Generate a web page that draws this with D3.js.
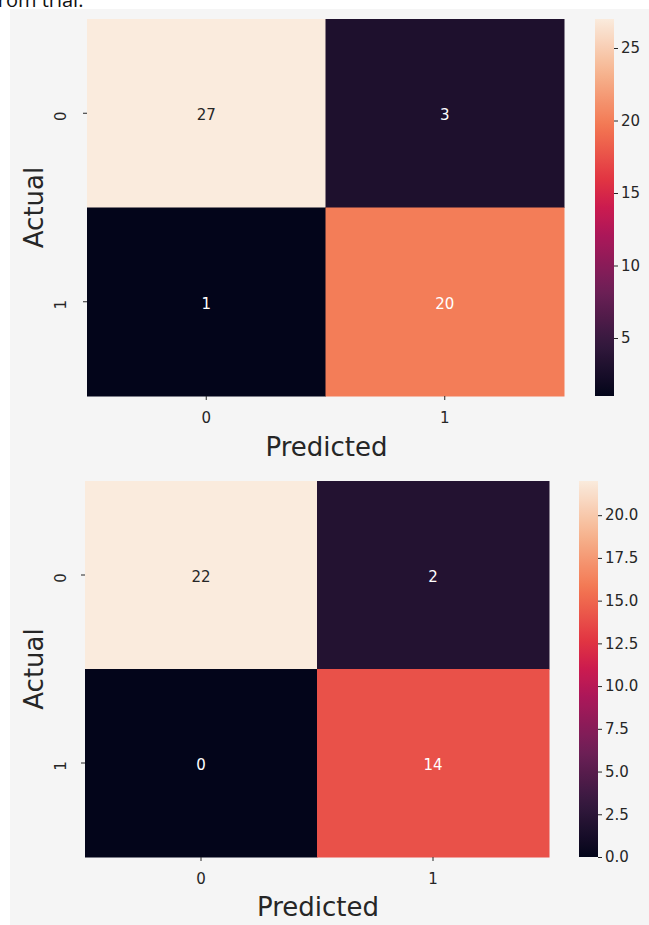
<!DOCTYPE html>
<html><head><meta charset="utf-8">
<script src="https://cdn.jsdelivr.net/npm/d3@7"></script>
<style>html,body{margin:0;padding:0;background:#fff;overflow:hidden}svg{display:block}text{font-family:"DejaVu Sans",sans-serif}</style>
</head><body>
<svg id="chart" width="649" height="925"></svg>
<script>
// ---- data ----
const classes = ["0", "1"];
const matrixTop = [[27, 3], [1, 20]];
const matrixBottom = [[22, 2], [0, 14]];
const cbTicksTop = [5, 10, 15, 20, 25];
const cbTicksBottom = [0, 2.5, 5, 7.5, 10, 12.5, 15, 17.5, 20];
const xLabel = "Predicted";
const yLabel = "Actual";

// rocket colormap approximation
const rocketStops = [0, 1/7, 2/7, 3/7, 0.5, 4/7, 5/7, 6/7, 1];
const rocketColors = ["#03051a", "#35193e", "#701f57", "#ad1759", "#cb1b4f", "#e13342", "#f37651", "#f6b48f", "#faebdd"];
const rocket = d3.scaleLinear().domain(rocketStops).range(rocketColors).interpolate(d3.interpolateRgb);

const svg = d3.select("#chart");
svg.append("rect").attr("x", 10).attr("y", 9).attr("width", 639).attr("height", 916).attr("fill", "#f5f5f5");
svg.append("text").attr("x", -9).attr("y", 7).attr("font-size", 20).attr("fill", "#111")
  .style("font-family", "'Open Sans', sans-serif").text("from trial.");

const defs = svg.append("defs");

function panel(id, matrix, ticks, fmt, L) {
  const vals = matrix.flat();
  const vmin = d3.min(vals), vmax = d3.max(vals);
  const norm = d3.scaleLinear().domain([vmin, vmax]).range([0, 1]);
  const color = v => rocket(norm(v));
  const x = d3.scaleBand().domain(classes).range([L.left, L.right]);
  const y = d3.scaleBand().domain(classes).range([L.top, L.bottom]);
  const g = svg.append("g");
  matrix.forEach((row, i) => row.forEach((v, j) => {
    g.append("rect").attr("x", x(classes[j])).attr("y", y(classes[i]))
      .attr("width", x.bandwidth() + 0.5).attr("height", y.bandwidth() + 0.5).attr("fill", color(v));
    const lum = d3.lab(color(v)).l;
    g.append("text").attr("x", x(classes[j]) + x.bandwidth() / 2).attr("y", y(classes[i]) + y.bandwidth() / 2 + 2)
      .attr("text-anchor", "middle").attr("dominant-baseline", "central").attr("font-size", 15)
      .attr("fill", lum > 75 ? "#262626" : "#ffffff").text(v);
  }));
  // x axis
  const xa = g.append("g").attr("transform", `translate(0,${L.bottom})`)
    .call(d3.axisBottom(x).tickSize(4).tickPadding(12));
  xa.select(".domain").remove();
  xa.selectAll("text").attr("font-size", 15).attr("fill", "#262626").attr("font-family", "DejaVu Sans");
  xa.selectAll("line").attr("stroke", "#262626");
  // y axis
  const ya = g.append("g").attr("transform", `translate(${L.left},0)`)
    .call(d3.axisLeft(y).tickSize(4).tickPadding(0));
  ya.select(".domain").remove();
  ya.selectAll("line").attr("stroke", "#262626");
  ya.selectAll("text").attr("font-size", 15).attr("fill", "#262626").attr("font-family", "DejaVu Sans")
    .attr("text-anchor", "middle").attr("dy", null).attr("x", null)
    .attr("transform", `translate(${L.ylabX - L.left},3) rotate(-90)`);
  // axis titles
  svg.append("text").attr("x", (L.left + L.right) / 2 + 1).attr("y", L.xTitleY).attr("text-anchor", "middle")
    .attr("font-size", 26).attr("fill", "#262626").text(xLabel);
  svg.append("text").attr("transform", `translate(${L.yTitleX},${(L.top + L.bottom) / 2}) rotate(-90)`)
    .attr("text-anchor", "middle").attr("font-size", 26).attr("fill", "#262626").text(yLabel);
  // colorbar
  const grad = defs.append("linearGradient").attr("id", id).attr("x1", 0).attr("y1", 1).attr("x2", 0).attr("y2", 0);
  d3.range(0, 41).forEach(k => {
    const t = k / 40;
    grad.append("stop").attr("offset", t).attr("stop-color", rocket(t));
  });
  svg.append("rect").attr("x", L.cbLeft).attr("y", L.top).attr("width", L.cbRight - L.cbLeft)
    .attr("height", L.bottom - L.top).attr("fill", `url(#${id})`);
  const cy = d3.scaleLinear().domain([vmin, vmax]).range([L.bottom, L.top]);
  const ca = svg.append("g").attr("transform", `translate(${L.cbRight},0)`)
    .call(d3.axisRight(cy).tickValues(ticks).tickFormat(d3.format(fmt)).tickSize(4).tickPadding(3));
  ca.select(".domain").remove();
  ca.selectAll("line").attr("stroke", "#262626");
  ca.selectAll("text").attr("font-size", 15).attr("fill", "#262626").attr("font-family", "DejaVu Sans");
}

panel("cbTop", matrixTop, cbTicksTop, "d",
  {left: 87, right: 564, top: 19, bottom: 396, cbLeft: 595, cbRight: 614, ylabX: 66, yTitleX: 43, xTitleY: 456});
panel("cbBottom", matrixBottom, cbTicksBottom, ".1f",
  {left: 85, right: 549, top: 481, bottom: 857, cbLeft: 579, cbRight: 598, ylabX: 66, yTitleX: 43, xTitleY: 916});
</script>
</body></html>
